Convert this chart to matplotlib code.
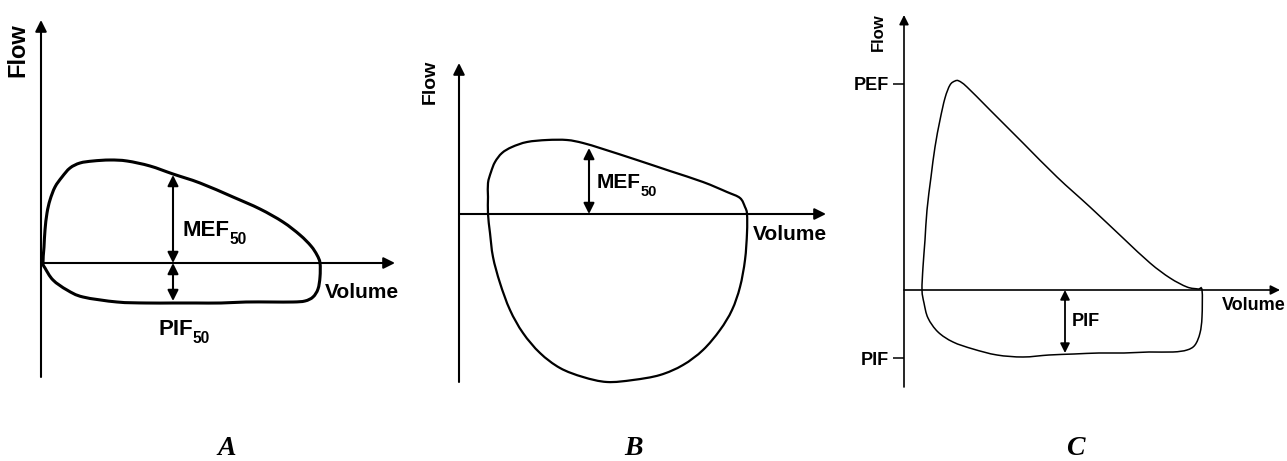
import matplotlib
matplotlib.use("Agg")
import matplotlib.pyplot as plt
from matplotlib.path import Path
from matplotlib.patches import PathPatch

W, H = 1287, 461

# loop shapes (volume, flow) in arbitrary units, origin at axis cross
a_vol = [2, 3, 4, 6, 9, 14, 21, 29, 39, 52, 69, 86, 109, 132, 159, 192, 219, 242, 259, 270, 276, 279,
         279, 277, 272, 264, 252, 230, 205, 180, 155, 132, 105, 76, 42, 26, 12, 4]
a_flow = [0, 16, 33, 50, 63, 76, 86, 95, 100, 102, 103, 102, 97, 89, 80, 66, 54, 41, 28, 17, 8, 0,
          -14, -26, -34, -38, -39, -39, -39, -40, -40, -40, -40, -39, -34, -27, -17, -5]

b_vol = [29, 29, 29, 32, 36, 43, 53, 68, 88, 108, 124, 144, 178, 211, 244, 268, 281, 286, 288,
         288, 286, 281, 273, 261, 244, 224, 201, 174, 148, 124, 101, 81, 64, 51, 41, 34, 31]
b_flow = [0, 17, 31, 42, 52, 61, 67, 72, 74, 74, 71, 65, 54, 43, 32, 22, 16, 7, 0,
          -19, -46, -73, -96, -116, -136, -151, -161, -166, -168, -163, -154, -139, -119, -96, -69, -43, -19]

c_vol = [18, 19, 21, 23, 27, 31, 36, 41, 46, 51, 55, 63, 86, 119, 153, 186, 219, 246, 266, 283, 294, 298,
         298, 296, 291, 283, 269, 245, 220, 195, 170, 145, 119, 93, 69, 49, 34, 24, 20]
c_flow = [0, 23, 50, 80, 113, 143, 170, 192, 205, 209, 209, 203, 180, 147, 113, 83, 52, 27, 12, 3, 1, 0,
          -27, -43, -55, -60, -62, -62, -63, -63, -64, -65, -67, -65, -59, -52, -42, -28, -13]

# marked measurements
a_mef50 = (132, 88)
a_pif50 = (132, -38)
b_mef50 = (130, 66)
c_pif = (161, -63)
c_ticks = [-68, 206]
c_tick_labels = ["PIF", "PEF"]

sans = ["Liberation Sans", "DejaVu Sans"]


def loop_path(xs, ys):
    # closed smooth curve through the read points (Catmull-Rom as cubic Bezier)
    n = len(xs)
    pts = list(zip(xs, ys))
    verts = [pts[0]]
    codes = [Path.MOVETO]
    for i in range(n):
        p0, p1, p2, p3 = pts[i - 1], pts[i], pts[(i + 1) % n], pts[(i + 2) % n]
        c1 = (p1[0] + (p2[0] - p0[0]) / 6, p1[1] + (p2[1] - p0[1]) / 6)
        c2 = (p2[0] - (p3[0] - p1[0]) / 6, p2[1] - (p3[1] - p1[1]) / 6)
        verts += [c1, c2, p2]
        codes += [Path.CURVE4] * 3
    return Path(verts, codes)


def make_panel(x0, x1, ox, oy):
    ax = fig.add_axes([x0 / W, 0, (x1 - x0) / W, 1])
    ax.set_xlim(x0 - ox, x1 - ox)
    ax.set_ylim(oy - H, oy)
    ax.set_xticks([])
    ax.set_yticks([])
    for s in ax.spines.values():
        s.set_visible(False)
    ax.patch.set_alpha(0)
    return ax


def axis_arrows(ax, xend, ybot, ytop, lw, ms):
    ap = dict(arrowstyle="-|>", lw=lw, color="black", mutation_scale=ms, shrinkA=0, shrinkB=0)
    ax.annotate("", xy=(xend, 0), xytext=(0, 0), arrowprops=ap)
    ax.annotate("", xy=(0, ytop), xytext=(0, ybot), arrowprops=ap)


def double_arrow(ax, x, y0, y1, lw, ms):
    ax.annotate("", xy=(x, y1), xytext=(x, y0),
                arrowprops=dict(arrowstyle="<|-|>", lw=lw, color="black", mutation_scale=ms,
                                shrinkA=0, shrinkB=0))


def sub_label(ax, x, y, main, sub, size, ha="left"):
    t = ax.text(x, y, main, family=sans, fontsize=size, fontweight="bold", ha=ha, va="center")
    ax.annotate(sub, xy=(1, 0.05), xycoords=t, family=sans, fontsize=size * 0.7,
                fontweight="bold", ha="left", va="center")


fig = plt.figure(figsize=(W / 100, H / 100), dpi=100)

# A
ax = make_panel(0, 420, 41, 263)
ax.add_patch(PathPatch(loop_path(a_vol, a_flow), fill=False, ec="black", lw=2.2))
axis_arrows(ax, 354, -114, 243, 1.5, 17)
double_arrow(ax, a_mef50[0], 0, a_mef50[1], 1.5, 16)
double_arrow(ax, a_pif50[0], 0, a_pif50[1], 1.5, 16)
ax.text(-23, 213, "Flow", rotation=90, family=sans, fontsize=17, fontweight="bold", ha="center", va="center")
ax.text(284, -30, "Volume", family=sans, fontsize=15, fontweight="bold", ha="left", va="center")
sub_label(ax, 141, 33, "MEF", "50", 16)
sub_label(ax, 117, -66, "PIF", "50", 16)

# B
ax = make_panel(420, 850, 459, 214)
ax.add_patch(PathPatch(loop_path(b_vol, b_flow), fill=False, ec="black", lw=1.6))
axis_arrows(ax, 367, -168, 151, 1.5, 17)
double_arrow(ax, b_mef50[0], 0, b_mef50[1], 1.5, 16)
ax.text(-29, 132, "Flow", rotation=90, family=sans, fontsize=14, fontweight="bold", ha="center", va="center")
ax.text(294, -21, "Volume", family=sans, fontsize=15, fontweight="bold", ha="left", va="center")
sub_label(ax, 138, 31, "MEF", "50", 15)

# C
ax = make_panel(850, 1287, 904, 290)
ax.add_patch(PathPatch(loop_path(c_vol, c_flow), fill=False, ec="black", lw=1.1))
axis_arrows(ax, 376, -97, 275, 1.2, 14)
double_arrow(ax, c_pif[0], 0, c_pif[1], 1.3, 14)
ax.spines["left"].set_visible(True)
ax.spines["left"].set_position(("data", 0))
ax.spines["left"].set_bounds(0, 0)
ax.spines["left"].set_linewidth(0)
ax.set_yticks(c_ticks)
ax.set_yticklabels(c_tick_labels, family=sans, fontsize=13, fontweight="bold")
ax.tick_params(axis="y", direction="out", length=8, width=1.1, pad=3)
ax.text(-26, 258, "Flow", rotation=90, family=sans, fontsize=12, fontweight="bold", ha="center", va="center")
ax.text(318, -15, "Volume", family=sans, fontsize=13, fontweight="bold", ha="left", va="center")
ax.text(168, -32, "PIF", family=sans, fontsize=13, fontweight="bold", ha="left", va="center")

# panel letters
for x, lab in [(227, "A"), (634, "B"), (1075, "C")]:
    fig.text(x / W, 1 - 448 / H, lab, family=["Liberation Serif", "DejaVu Serif"], fontsize=20,
             fontweight="bold", fontstyle="italic", ha="center", va="center")

fig.savefig("out.png", dpi=100)
